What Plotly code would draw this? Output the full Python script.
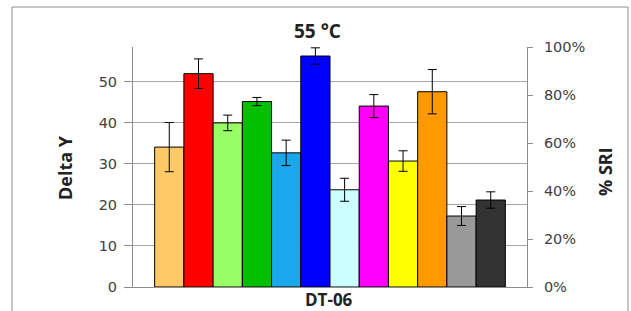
import plotly.graph_objects as go

category = ["DT-06"]
samples = ["S1", "S2", "S3", "S4", "S5", "S6", "S7", "S8", "S9", "S10", "S11", "S12"]
delta_y = [34.1, 52.0, 40.0, 45.2, 32.7, 56.3, 23.7, 44.1, 30.7, 47.6, 17.3, 21.2]
errors = [6.0, 3.6, 1.9, 1.0, 3.1, 2.0, 2.8, 2.8, 2.5, 5.4, 2.3, 2.0]
colors = ["#FFC966", "#FF0000", "#99FF66", "#00C000", "#1AA7EC", "#0000FF",
          "#CCFFFF", "#FF00FF", "#FFFF00", "#FF9900", "#999999", "#333333"]
left_ticks = [0, 10, 20, 30, 40, 50]
right_ticks = [0, 0.2, 0.4, 0.6, 0.8, 1.0]
right_labels = ["0%", "20%", "40%", "60%", "80%", "100%"]

fig = go.Figure()
for name, v, e, c in zip(samples, delta_y, errors, colors):
    fig.add_trace(go.Bar(
        x=category, y=[v], name=name,
        marker=dict(color=c, line=dict(color="#000000", width=1)),
        error_y=dict(type="data", array=[e], visible=True,
                     color="#000000", thickness=1, width=4.5),
        showlegend=False,
    ))

# invisible trace for right axis
fig.add_trace(go.Scatter(x=category, y=[None], yaxis="y2", showlegend=False,
                         mode="markers", hoverinfo="skip"))

tick_font = dict(family="DejaVu Sans", size=14.5, color="#404040")
title_font = dict(family="Open Sans", size=18, color="#222222")

W, H = 631, 311
L, R, T, B = 133, 104, 47, 24
pw, ph = W - L - R, H - T - B

def px(x):
    return (x - L) / pw

def py(y):
    return (H - B - y) / ph

fig.update_layout(
    width=W, height=H,
    margin=dict(l=L, r=R, t=T, b=B),
    paper_bgcolor="white", plot_bgcolor="white",
    barmode="group", bargap=0.11, bargroupgap=0,
    xaxis=dict(showticklabels=False, showline=True, linecolor="#8C8C8C",
               linewidth=1, ticks="", showgrid=False, zeroline=False,
               fixedrange=True),
    yaxis=dict(range=[0, 58.5], tickvals=left_ticks, showgrid=True,
               gridcolor="#A6A6A6", gridwidth=1, showline=True,
               linecolor="#8C8C8C", linewidth=1, ticks="outside", ticklen=8,
               tickcolor="#8C8C8C", tickfont=tick_font, zeroline=False,
               ticklabelstandoff=4),
    yaxis2=dict(range=[0, 1], overlaying="y", side="right",
                tickvals=right_ticks, ticktext=right_labels, showgrid=False,
                showline=True, linecolor="#8C8C8C", linewidth=1,
                ticks="outside", ticklen=5, tickcolor="#8C8C8C",
                tickfont=tick_font, zeroline=False, ticklabelstandoff=8),
    shapes=[dict(type="rect", xref="paper", yref="paper",
                 x0=px(12), x1=px(628), y0=py(318), y1=py(7),
                 line=dict(color="#8C8C8C", width=1), layer="below")],
    annotations=[
        dict(text="<b>55 °C</b>", x=px(317), y=py(31), xref="paper", yref="paper",
             showarrow=False, font=dict(family="Open Sans", size=19, color="#222222"),
             xanchor="center", yanchor="middle"),
        dict(text="<b>DT-06</b>", x=px(329), y=py(299), xref="paper", yref="paper",
             showarrow=False, font=dict(family="Open Sans", size=17, color="#222222"),
             xanchor="center", yanchor="middle"),
        dict(text="<b>Delta Y</b>", x=px(65), y=py(168), xref="paper", yref="paper",
             showarrow=False, font=title_font, textangle=-90,
             xanchor="center", yanchor="middle"),
        dict(text="<b>% SRI</b>", x=px(605), y=py(172), xref="paper", yref="paper",
             showarrow=False, font=title_font, textangle=-90,
             xanchor="center", yanchor="middle"),
    ],
)

fig.write_html("out.html", config={"displayModeBar": False},
               post_script="document.body.style.margin='0';")
